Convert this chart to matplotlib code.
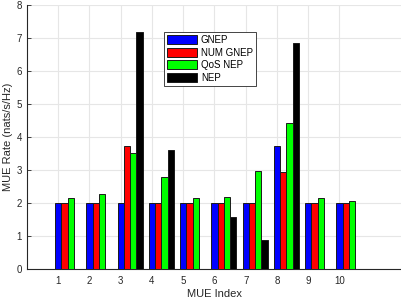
import numpy as np
import matplotlib
matplotlib.use('Agg')
import matplotlib.pyplot as plt

plt.rcParams['font.family'] = ['Liberation Sans', 'DejaVu Sans']

mue = np.arange(1, 11)
gnep = [2, 2, 2, 2, 2, 2, 2, 3.75, 2, 2]
num_gnep = [2, 2, 3.73, 2, 2, 2, 2, 2.94, 2, 2]
qos_nep = [2.15, 2.29, 3.52, 2.79, 2.15, 2.18, 2.97, 4.42, 2.15, 2.07]
nep = [0, 0, 7.2, 3.63, 0, 1.59, 0.89, 6.85, 0, 0]

series = [gnep, num_gnep, qos_nep, nep]
names = ['GNEP', 'NUM GNEP', 'QoS NEP', 'NEP']
colors = ['#0000ff', '#ff0000', '#00ff00', '#000000']

fig = plt.figure(figsize=(4.02, 3.01), dpi=100)
ax = fig.add_axes([27/402, 1-269.3/301, 1-27/402, (269.3-5.3)/301])

w = 0.2
for k, (vals, name, c) in enumerate(zip(series, names, colors)):
    ax.bar(mue + k*w, vals, width=w, color=c, edgecolor='#1a1a1a',
           linewidth=0.7, label=name, zorder=3)

ax.set_xlim(0, 12)
ax.set_ylim(0, 8)
ax.set_xticks(mue)
ax.set_yticks(range(0, 9))
ax.grid(True, color='#e6e6e6', linewidth=0.8, zorder=0)
ax.set_axisbelow(True)
for s in ['top', 'right']:
    ax.spines[s].set_visible(False)
ax.spines['left'].set_color('#262626')
ax.spines['bottom'].set_color('#262626')
ax.tick_params(direction='in', labelsize=7, colors='#262626', length=3, width=0.6)
ax.tick_params(axis='x', pad=5)
ax.set_xlabel('MUE Index', fontsize=8, color='#262626', labelpad=2)
ax.set_ylabel('MUE Rate (nats/s/Hz)', fontsize=8, color='#262626', labelpad=2.5)

leg = ax.legend(loc='upper left', bbox_to_anchor=(0.365, 0.9), fontsize=7,
                handlelength=3.1, handleheight=1.05, labelspacing=0.26,
                handletextpad=0.35, borderpad=0.35, borderaxespad=0,
                fancybox=False, framealpha=1, edgecolor='#262626')
leg.get_frame().set_linewidth(0.6)

fig.savefig('out.png', dpi=100)
